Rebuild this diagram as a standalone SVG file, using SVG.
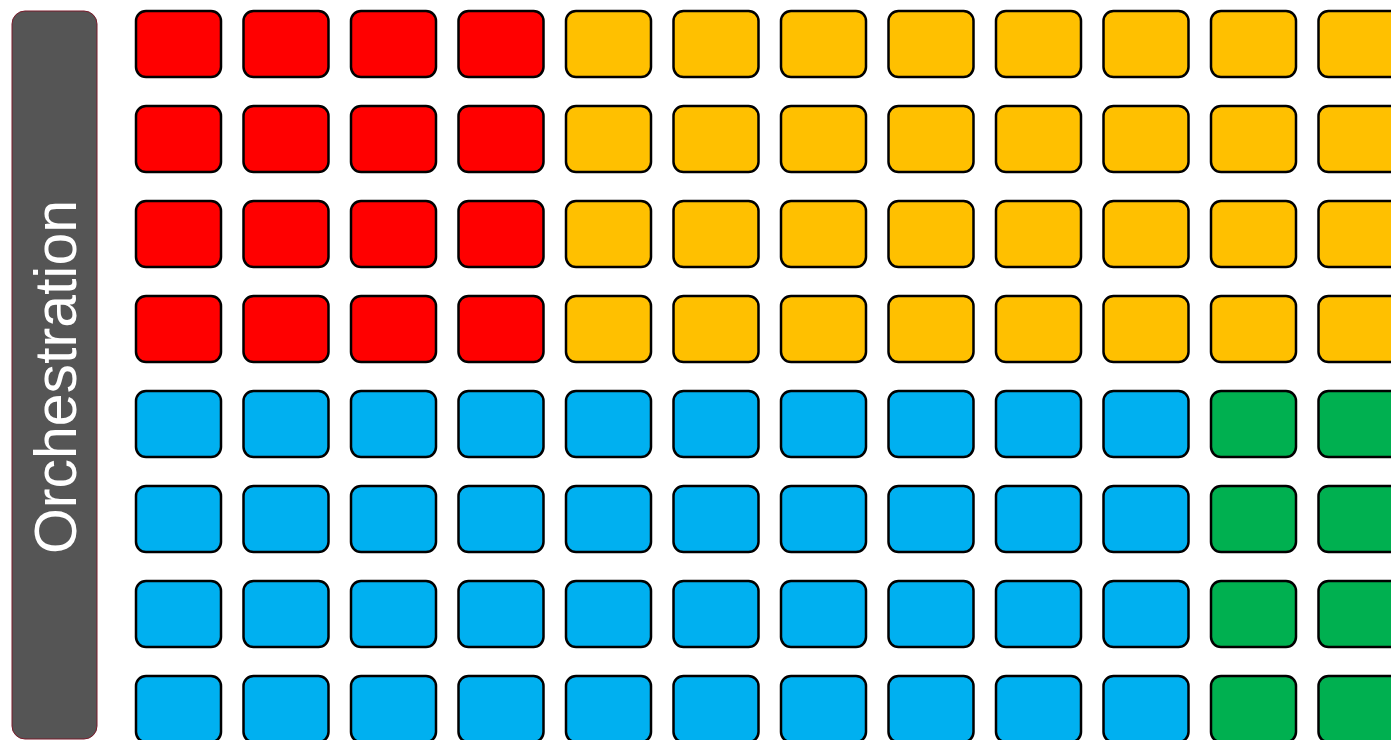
<svg xmlns="http://www.w3.org/2000/svg" width="1391" height="740" viewBox="0 0 1391 740">
<style>
.b{stroke:#000;stroke-width:2.5}
.r{fill:#FF0000}.o{fill:#FFC000}.c{fill:#00B0F0}.g{fill:#00B050}
.lbl{font-family:"Liberation Sans",Arial,sans-serif;font-size:59px;fill:#fff}
</style>
<rect width="1391" height="740" fill="#fff"/>
<g id="orchestration">
<rect x="12" y="11" width="85" height="728" rx="13" fill="#555555" stroke="#7a1a2a" stroke-width="1"/>
<text class="lbl" transform="translate(76,377) rotate(-90)" text-anchor="middle">Orchestration</text>
</g>
<g id="connectors"></g>
<g id="r0c0"><rect class="b r" x="136" y="11" width="85" height="66" rx="10"/></g>
<g id="r0c1"><rect class="b r" x="243.5" y="11" width="85" height="66" rx="10"/></g>
<g id="r0c2"><rect class="b r" x="351" y="11" width="85" height="66" rx="10"/></g>
<g id="r0c3"><rect class="b r" x="458.5" y="11" width="85" height="66" rx="10"/></g>
<g id="r0c4"><rect class="b o" x="566" y="11" width="85" height="66" rx="10"/></g>
<g id="r0c5"><rect class="b o" x="673.5" y="11" width="85" height="66" rx="10"/></g>
<g id="r0c6"><rect class="b o" x="781" y="11" width="85" height="66" rx="10"/></g>
<g id="r0c7"><rect class="b o" x="888.5" y="11" width="85" height="66" rx="10"/></g>
<g id="r0c8"><rect class="b o" x="996" y="11" width="85" height="66" rx="10"/></g>
<g id="r0c9"><rect class="b o" x="1103.5" y="11" width="85" height="66" rx="10"/></g>
<g id="r0c10"><rect class="b o" x="1211" y="11" width="85" height="66" rx="10"/></g>
<g id="r0c11"><rect class="b o" x="1318.5" y="11" width="85" height="66" rx="10"/></g>
<g id="r1c0"><rect class="b r" x="136" y="106" width="85" height="66" rx="10"/></g>
<g id="r1c1"><rect class="b r" x="243.5" y="106" width="85" height="66" rx="10"/></g>
<g id="r1c2"><rect class="b r" x="351" y="106" width="85" height="66" rx="10"/></g>
<g id="r1c3"><rect class="b r" x="458.5" y="106" width="85" height="66" rx="10"/></g>
<g id="r1c4"><rect class="b o" x="566" y="106" width="85" height="66" rx="10"/></g>
<g id="r1c5"><rect class="b o" x="673.5" y="106" width="85" height="66" rx="10"/></g>
<g id="r1c6"><rect class="b o" x="781" y="106" width="85" height="66" rx="10"/></g>
<g id="r1c7"><rect class="b o" x="888.5" y="106" width="85" height="66" rx="10"/></g>
<g id="r1c8"><rect class="b o" x="996" y="106" width="85" height="66" rx="10"/></g>
<g id="r1c9"><rect class="b o" x="1103.5" y="106" width="85" height="66" rx="10"/></g>
<g id="r1c10"><rect class="b o" x="1211" y="106" width="85" height="66" rx="10"/></g>
<g id="r1c11"><rect class="b o" x="1318.5" y="106" width="85" height="66" rx="10"/></g>
<g id="r2c0"><rect class="b r" x="136" y="201" width="85" height="66" rx="10"/></g>
<g id="r2c1"><rect class="b r" x="243.5" y="201" width="85" height="66" rx="10"/></g>
<g id="r2c2"><rect class="b r" x="351" y="201" width="85" height="66" rx="10"/></g>
<g id="r2c3"><rect class="b r" x="458.5" y="201" width="85" height="66" rx="10"/></g>
<g id="r2c4"><rect class="b o" x="566" y="201" width="85" height="66" rx="10"/></g>
<g id="r2c5"><rect class="b o" x="673.5" y="201" width="85" height="66" rx="10"/></g>
<g id="r2c6"><rect class="b o" x="781" y="201" width="85" height="66" rx="10"/></g>
<g id="r2c7"><rect class="b o" x="888.5" y="201" width="85" height="66" rx="10"/></g>
<g id="r2c8"><rect class="b o" x="996" y="201" width="85" height="66" rx="10"/></g>
<g id="r2c9"><rect class="b o" x="1103.5" y="201" width="85" height="66" rx="10"/></g>
<g id="r2c10"><rect class="b o" x="1211" y="201" width="85" height="66" rx="10"/></g>
<g id="r2c11"><rect class="b o" x="1318.5" y="201" width="85" height="66" rx="10"/></g>
<g id="r3c0"><rect class="b r" x="136" y="296" width="85" height="66" rx="10"/></g>
<g id="r3c1"><rect class="b r" x="243.5" y="296" width="85" height="66" rx="10"/></g>
<g id="r3c2"><rect class="b r" x="351" y="296" width="85" height="66" rx="10"/></g>
<g id="r3c3"><rect class="b r" x="458.5" y="296" width="85" height="66" rx="10"/></g>
<g id="r3c4"><rect class="b o" x="566" y="296" width="85" height="66" rx="10"/></g>
<g id="r3c5"><rect class="b o" x="673.5" y="296" width="85" height="66" rx="10"/></g>
<g id="r3c6"><rect class="b o" x="781" y="296" width="85" height="66" rx="10"/></g>
<g id="r3c7"><rect class="b o" x="888.5" y="296" width="85" height="66" rx="10"/></g>
<g id="r3c8"><rect class="b o" x="996" y="296" width="85" height="66" rx="10"/></g>
<g id="r3c9"><rect class="b o" x="1103.5" y="296" width="85" height="66" rx="10"/></g>
<g id="r3c10"><rect class="b o" x="1211" y="296" width="85" height="66" rx="10"/></g>
<g id="r3c11"><rect class="b o" x="1318.5" y="296" width="85" height="66" rx="10"/></g>
<g id="r4c0"><rect class="b c" x="136" y="391" width="85" height="66" rx="10"/></g>
<g id="r4c1"><rect class="b c" x="243.5" y="391" width="85" height="66" rx="10"/></g>
<g id="r4c2"><rect class="b c" x="351" y="391" width="85" height="66" rx="10"/></g>
<g id="r4c3"><rect class="b c" x="458.5" y="391" width="85" height="66" rx="10"/></g>
<g id="r4c4"><rect class="b c" x="566" y="391" width="85" height="66" rx="10"/></g>
<g id="r4c5"><rect class="b c" x="673.5" y="391" width="85" height="66" rx="10"/></g>
<g id="r4c6"><rect class="b c" x="781" y="391" width="85" height="66" rx="10"/></g>
<g id="r4c7"><rect class="b c" x="888.5" y="391" width="85" height="66" rx="10"/></g>
<g id="r4c8"><rect class="b c" x="996" y="391" width="85" height="66" rx="10"/></g>
<g id="r4c9"><rect class="b c" x="1103.5" y="391" width="85" height="66" rx="10"/></g>
<g id="r4c10"><rect class="b g" x="1211" y="391" width="85" height="66" rx="10"/></g>
<g id="r4c11"><rect class="b g" x="1318.5" y="391" width="85" height="66" rx="10"/></g>
<g id="r5c0"><rect class="b c" x="136" y="486" width="85" height="66" rx="10"/></g>
<g id="r5c1"><rect class="b c" x="243.5" y="486" width="85" height="66" rx="10"/></g>
<g id="r5c2"><rect class="b c" x="351" y="486" width="85" height="66" rx="10"/></g>
<g id="r5c3"><rect class="b c" x="458.5" y="486" width="85" height="66" rx="10"/></g>
<g id="r5c4"><rect class="b c" x="566" y="486" width="85" height="66" rx="10"/></g>
<g id="r5c5"><rect class="b c" x="673.5" y="486" width="85" height="66" rx="10"/></g>
<g id="r5c6"><rect class="b c" x="781" y="486" width="85" height="66" rx="10"/></g>
<g id="r5c7"><rect class="b c" x="888.5" y="486" width="85" height="66" rx="10"/></g>
<g id="r5c8"><rect class="b c" x="996" y="486" width="85" height="66" rx="10"/></g>
<g id="r5c9"><rect class="b c" x="1103.5" y="486" width="85" height="66" rx="10"/></g>
<g id="r5c10"><rect class="b g" x="1211" y="486" width="85" height="66" rx="10"/></g>
<g id="r5c11"><rect class="b g" x="1318.5" y="486" width="85" height="66" rx="10"/></g>
<g id="r6c0"><rect class="b c" x="136" y="581" width="85" height="66" rx="10"/></g>
<g id="r6c1"><rect class="b c" x="243.5" y="581" width="85" height="66" rx="10"/></g>
<g id="r6c2"><rect class="b c" x="351" y="581" width="85" height="66" rx="10"/></g>
<g id="r6c3"><rect class="b c" x="458.5" y="581" width="85" height="66" rx="10"/></g>
<g id="r6c4"><rect class="b c" x="566" y="581" width="85" height="66" rx="10"/></g>
<g id="r6c5"><rect class="b c" x="673.5" y="581" width="85" height="66" rx="10"/></g>
<g id="r6c6"><rect class="b c" x="781" y="581" width="85" height="66" rx="10"/></g>
<g id="r6c7"><rect class="b c" x="888.5" y="581" width="85" height="66" rx="10"/></g>
<g id="r6c8"><rect class="b c" x="996" y="581" width="85" height="66" rx="10"/></g>
<g id="r6c9"><rect class="b c" x="1103.5" y="581" width="85" height="66" rx="10"/></g>
<g id="r6c10"><rect class="b g" x="1211" y="581" width="85" height="66" rx="10"/></g>
<g id="r6c11"><rect class="b g" x="1318.5" y="581" width="85" height="66" rx="10"/></g>
<g id="r7c0"><rect class="b c" x="136" y="676" width="85" height="66" rx="10"/></g>
<g id="r7c1"><rect class="b c" x="243.5" y="676" width="85" height="66" rx="10"/></g>
<g id="r7c2"><rect class="b c" x="351" y="676" width="85" height="66" rx="10"/></g>
<g id="r7c3"><rect class="b c" x="458.5" y="676" width="85" height="66" rx="10"/></g>
<g id="r7c4"><rect class="b c" x="566" y="676" width="85" height="66" rx="10"/></g>
<g id="r7c5"><rect class="b c" x="673.5" y="676" width="85" height="66" rx="10"/></g>
<g id="r7c6"><rect class="b c" x="781" y="676" width="85" height="66" rx="10"/></g>
<g id="r7c7"><rect class="b c" x="888.5" y="676" width="85" height="66" rx="10"/></g>
<g id="r7c8"><rect class="b c" x="996" y="676" width="85" height="66" rx="10"/></g>
<g id="r7c9"><rect class="b c" x="1103.5" y="676" width="85" height="66" rx="10"/></g>
<g id="r7c10"><rect class="b g" x="1211" y="676" width="85" height="66" rx="10"/></g>
<g id="r7c11"><rect class="b g" x="1318.5" y="676" width="85" height="66" rx="10"/></g>
</svg>
